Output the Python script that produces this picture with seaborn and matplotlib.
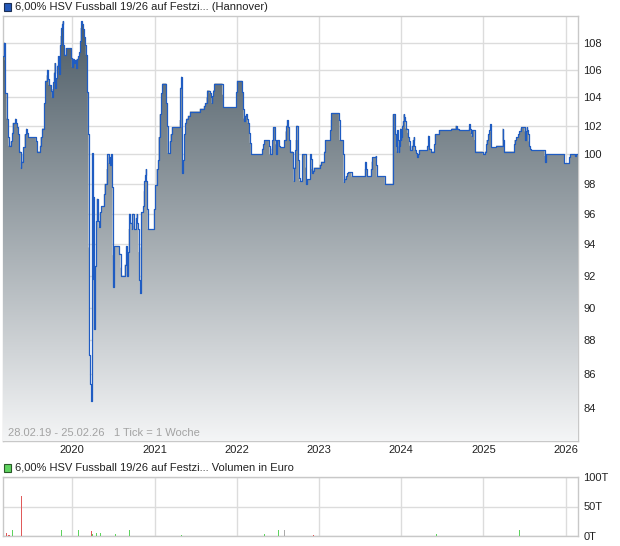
import numpy as np
import pandas as pd
import seaborn as sns
import matplotlib
matplotlib.use("Agg")
import matplotlib.pyplot as plt
from matplotlib.patches import Rectangle
from matplotlib.colors import LinearSegmentedColormap
from matplotlib.ticker import FixedLocator, NullLocator, FixedFormatter

START = "2019-02-28"
END = "2026-02-25"
TITLE = "6,00% HSV Fussball 19/26 auf Festzi... (Hannover)"
VOL_TITLE = "6,00% HSV Fussball 19/26 auf Festzi... Volumen in Euro"
RANGE_TEXT = "28.02.19 - 25.02.26   1 Tick = 1 Woche"

# days after 28.02.19 -> price
price_days = [
    0, 4, 8, 10, 16, 22, 25, 34, 40, 43, 55, 58, 63, 67, 72, 79, 81, 87, 90, 96,
    102, 105, 111, 146, 152, 164, 167, 173, 182, 188, 194, 197, 200, 203, 214, 217, 220, 223, 226, 229,
    232, 235, 241, 244, 247, 250, 253, 256, 259, 262, 265, 267, 271, 279, 303, 306, 309, 315, 321, 324,
    327, 333, 338, 342, 345, 347, 350, 356, 362, 365, 368, 374, 377,
    380, 383, 386, 389, 395, 398, 401, 404, 407, 409, 413, 416, 421, 425, 430, 436, 448, 451, 460, 463,
    469, 472, 475, 480, 484, 487, 489, 492, 495, 516, 522, 525, 540, 546, 549, 551, 555, 558, 560, 566,
    572, 575, 581, 584, 590, 593, 596, 599, 602, 605, 608, 611, 614, 622, 625, 628, 631, 634, 637, 640,
    643, 670, 676, 682, 688, 691,
    696, 702, 708, 726, 729, 732, 741, 744, 750, 785, 788, 791, 794, 797, 800, 806, 809, 815, 821, 830,
    874, 892, 897, 904, 906, 918, 924, 927, 930, 933, 939, 975, 977, 1037, 1039, 1063, 1066, 1069, 1072, 1075,
    1081, 1084, 1087, 1093, 1096, 1101, 1152, 1155, 1161, 1181, 1184, 1193, 1196, 1199, 1208, 1211, 1214, 1217, 1226, 1229,
    1250, 1255, 1259, 1261, 1264, 1267, 1270, 1276, 1288, 1291, 1294, 1297, 1300, 1303,
    1309, 1312, 1314, 1317, 1329, 1344, 1347, 1350, 1365, 1368, 1371, 1374, 1377, 1380, 1406, 1412, 1427, 1430, 1454, 1456,
    1459, 1492, 1495, 1510, 1513, 1516, 1522, 1530, 1534, 1548, 1607, 1610, 1613, 1619, 1634, 1637, 1640, 1655, 1658, 1660,
    1696, 1731, 1743, 1746, 1749, 1752, 1755, 1758, 1761, 1764, 1767, 1770, 1773, 1776, 1779, 1782, 1785, 1788, 1797, 1800,
    1803, 1806, 1809, 1815, 1820, 1824, 1826, 1829, 1835, 1841, 1844, 1847, 1885, 1888, 1891, 1894, 1900, 1915, 1918, 1936,
    1992, 2010, 2015, 2024, 2069, 2072, 2075, 2078, 2081, 2084, 2095, 2098, 2131, 2140, 2146, 2148, 2155, 2160, 2164, 2166,
    2169, 2190, 2219, 2222, 2226, 2270, 2272, 2279, 2288, 2293, 2299, 2302, 2317, 2320, 2323, 2326, 2329, 2332, 2335, 2338,
    2341, 2344, 2406, 2409, 2412, 2492, 2494, 2515, 2518, 2542, 2545, 2554,
]
price_values = [
    107.0, 108.0, 106.7, 104.3, 102.5, 101.2, 100.6, 100.9, 101.5, 102.2, 102.5, 102.2, 101.9, 101.4, 100.2, 99.1, 99.5, 100.0, 100.5, 101.4,
    101.8, 101.5, 101.2, 100.9, 100.2, 100.6, 101.2, 101.8, 103.6, 105.2, 105.6, 106.0, 105.3, 104.9, 104.5, 104.0, 104.6, 105.1, 105.8, 106.5,
    104.7, 105.4, 106.3, 107.0, 106.3, 105.7, 107.8, 108.5, 109.1, 109.4, 109.6, 107.8, 107.1, 107.6, 106.9, 106.2, 106.8, 106.5, 106.7, 106.1,
    106.8, 107.0, 107.3, 108.1, 109.1, 109.6, 109.4, 109.0, 108.4, 107.8, 107.1, 104.4, 101.4,
    93.8, 87.1, 85.4, 84.4, 100.1, 91.8, 97.1, 88.7, 90.0, 92.6, 95.5, 97.0, 95.5, 95.1, 96.1, 96.5, 97.3, 98.0, 99.0, 100.0,
    99.4, 99.8, 99.3, 100.0, 97.8, 93.3, 91.3, 93.3, 93.9, 93.4, 92.5, 92.0, 92.7, 93.9, 93.0, 92.0, 93.5, 95.0, 96.0, 95.4,
    95.0, 96.0, 95.2, 95.0, 95.7, 96.0, 95.4, 95.0, 93.5, 91.7, 90.9, 93.8, 96.1, 96.5, 97.5, 98.2, 98.6, 99.0, 98.2, 96.3,
    95.0, 96.3, 97.9, 99.0, 99.6, 101.2,
    102.8, 104.3, 105.0, 103.6, 102.0, 100.1, 100.9, 101.4, 101.9, 102.4, 104.7, 105.5, 101.9, 98.7, 99.6, 101.4, 102.2, 102.5, 102.7, 103.0,
    103.2, 103.4, 103.6, 104.0, 104.5, 104.3, 104.0, 103.6, 104.1, 104.5, 105.0, 104.2, 103.3, 104.4, 105.2, 104.4, 103.2, 102.5, 102.3, 102.7,
    102.8, 102.5, 102.2, 101.5, 100.8, 100.0, 100.4, 100.7, 101.0, 100.6, 100.0, 100.4, 101.0, 101.9, 101.0, 100.7, 100.0, 101.0, 100.6, 100.5,
    101.0, 101.6, 102.0, 102.4, 102.2, 101.9, 101.0, 100.2, 99.1, 98.2, 99.1, 100.3, 101.0, 102.0,
    101.0, 99.6, 98.4, 98.2, 100.0, 99.1, 98.0, 98.3, 100.0, 99.7, 99.0, 98.7, 98.9, 99.1, 99.3, 99.5, 100.2, 101.0, 101.7, 102.4,
    102.9, 102.4, 101.0, 100.0, 98.1, 98.3, 98.5, 98.7, 98.8, 98.5, 99.0, 99.5, 99.0, 98.5, 99.0, 99.5, 99.8, 99.9, 99.3, 98.5,
    98.0, 102.8, 101.4, 100.6, 100.2, 101.7, 101.0, 100.2, 100.6, 101.8, 101.0, 101.2, 102.0, 102.3, 102.8, 102.6, 102.3, 101.8, 101.5, 101.2,
    100.9, 100.6, 100.3, 100.6, 101.0, 101.2, 100.6, 100.3, 100.1, 99.8, 100.0, 100.3, 100.6, 101.3, 100.9, 100.4, 100.2, 100.7, 101.4, 101.7,
    101.8, 102.0, 101.8, 101.7, 101.8, 102.1, 101.8, 101.5, 101.3, 101.7, 101.0, 100.2, 100.0, 100.2, 100.7, 101.0, 101.4, 101.7, 102.1, 101.6,
    100.5, 100.6, 101.8, 101.0, 100.2, 100.7, 101.0, 101.2, 101.4, 101.6, 101.8, 101.9, 101.6, 101.0, 101.6, 101.9, 101.7, 101.4, 100.9, 100.6,
    100.4, 100.3, 99.9, 99.5, 100.0, 99.8, 99.4, 99.8, 100.0, 99.9, 100.0, 100.0,
]

# weekly volume in Euro
vol_dates = ["2019-03-15", "2019-03-24", "2019-03-28", "2019-04-11", "2019-05-18", "2019-11-14",
             "2020-01-29", "2020-03-26", "2020-03-31", "2020-04-17", "2020-05-05", "2020-07-11",
             "2020-09-11", "2020-11-24", "2021-04-30", "2022-05-03", "2022-07-04", "2022-07-31",
             "2022-12-06", "2024-06-06", "2025-06-08", "2025-06-21"]
vol_values = [5700, 1700, 1700, 10200, 68000, 10200,
              10200, 8500, 3400, 5700, 5700, 3400,
              10200, 600, 2300, 3400, 10200, 10200,
              1700, 3400, 10200, 500]
vol_dir = ["down", "down", "down", "up", "down", "up",
           "up", "down", "up", "up", "up", "up",
           "up", "up", "up", "up", "up", "flat",
           "down", "up", "up", "up"]

years = ["2020", "2021", "2022", "2023", "2024", "2025", "2026"]
price_ticks = [84, 86, 88, 90, 92, 94, 96, 98, 100, 102, 104, 106, 108]
vol_ticks = [0, 50000, 100000]
vol_tick_labels = ["0T", "50T", "100T"]

LINE = "#1f5cc2"
GRID = "#dcdcdc"
BORDER = "#c8c8c8"
dir_colors = {"up": "#5fd35f", "down": "#e05a5a", "flat": "#aaaaaa"}


def box(l, t, r, b, W=620, H=546):
    return [l / W, 1 - b / H, (r - l) / W, (b - t) / H]


def main():
    sns.set_theme(style="white")
    plt.rcParams["font.family"] = ["Liberation Sans", "DejaVu Sans"]

    fig = plt.figure(figsize=(6.2, 5.46), dpi=100)
    ax = fig.add_axes(box(3, 16, 578, 441))
    axv = fig.add_axes(box(3, 477, 578, 536))

    x0, x1 = pd.Timestamp(START), pd.Timestamp(END)
    ymin, ymax = 82.1, 110.0
    df = pd.DataFrame({
        "date": pd.Timestamp(START) + pd.to_timedelta(price_days, unit="D"),
        "price": price_values,
    })
    year_dates = [pd.Timestamp(y + "-01-01") for y in years]

    """ price panel """
    ax.set_yscale("log")
    poly = ax.fill_between(df["date"], df["price"], ymin, step="post", color="none", lw=0)
    sns.lineplot(ax=ax, data=df, x="date", y="price", drawstyle="steps-post",
                 color=LINE, lw=0.9, zorder=4)
    ax.set_autoscale_on(False)
    ax.set_xlim(x0, x1)
    ax.set_ylim(ymin, ymax)

    cmap = LinearSegmentedColormap.from_list("fade", ["#f4f5f6", "#4b5a64"])
    grad = np.linspace(0, 1, 256).reshape(-1, 1)
    im = ax.imshow(grad, cmap=cmap, aspect="auto", origin="lower", extent=[0, 1, 0, 1],
                   transform=ax.transAxes, zorder=3, interpolation="bilinear")
    im.set_clip_path(poly.get_paths()[0], transform=poly.get_transform())

    ax.yaxis.set_major_locator(FixedLocator(price_ticks))
    ax.yaxis.set_major_formatter(FixedFormatter([str(t) for t in price_ticks]))
    ax.yaxis.set_minor_locator(NullLocator())
    ax.yaxis.tick_right()
    ax.set_xticks(year_dates)
    ax.set_xticklabels(years)
    ax.tick_params(axis="both", length=0, labelsize=8, colors="#222222")
    ax.tick_params(axis="y", pad=4)
    ax.tick_params(axis="x", pad=3)
    ax.grid(True, color=GRID, lw=1, zorder=0)
    ax.set_axisbelow(True)
    ax.set_xlabel("")
    ax.set_ylabel("")
    for s in ax.spines.values():
        s.set_color(BORDER)
        s.set_linewidth(1)
    ax.text(0.009, 0.008, RANGE_TEXT, transform=ax.transAxes, fontsize=8,
            color="#a3a3a3", va="bottom", ha="left", zorder=5)

    """ volume panel """
    vdates = pd.to_datetime(vol_dates)
    axv.vlines(vdates, 0, vol_values, colors=[dir_colors[d] for d in vol_dir], lw=0.72,
               antialiased=False, zorder=3)
    axv.set_xlim(x0, x1)
    axv.set_ylim(0, 100000)
    axv.yaxis.set_major_locator(FixedLocator(vol_ticks))
    axv.yaxis.set_major_formatter(FixedFormatter(vol_tick_labels))
    axv.yaxis.tick_right()
    axv.set_xticks(year_dates)
    axv.set_xticklabels([])
    axv.tick_params(axis="both", length=0, labelsize=8, colors="#222222")
    axv.tick_params(axis="y", pad=4)
    axv.grid(True, color=GRID, lw=1, zorder=0)
    axv.set_axisbelow(True)
    for s in axv.spines.values():
        s.set_color(BORDER)
        s.set_linewidth(1)

    """ headers """
    fig.patches.append(Rectangle((4 / 620, 1 - 11 / 546), 7 / 620, 8 / 546, transform=fig.transFigure,
                                 facecolor="#2458b8", edgecolor="#1c2f55", lw=0.8))
    fig.text(15 / 620, 1 - 7 / 546, TITLE, fontsize=8, va="center", ha="left", color="#222222")
    fig.patches.append(Rectangle((4 / 620, 1 - 472 / 546), 7 / 620, 8 / 546, transform=fig.transFigure,
                                 facecolor="#5fd35f", edgecolor="#2a5a2a", lw=0.8))
    fig.text(15 / 620, 1 - 468 / 546, VOL_TITLE, fontsize=8, va="center", ha="left", color="#222222")

    fig.savefig("out.png", dpi=100, facecolor="white")


if __name__ == "__main__":
    main()
